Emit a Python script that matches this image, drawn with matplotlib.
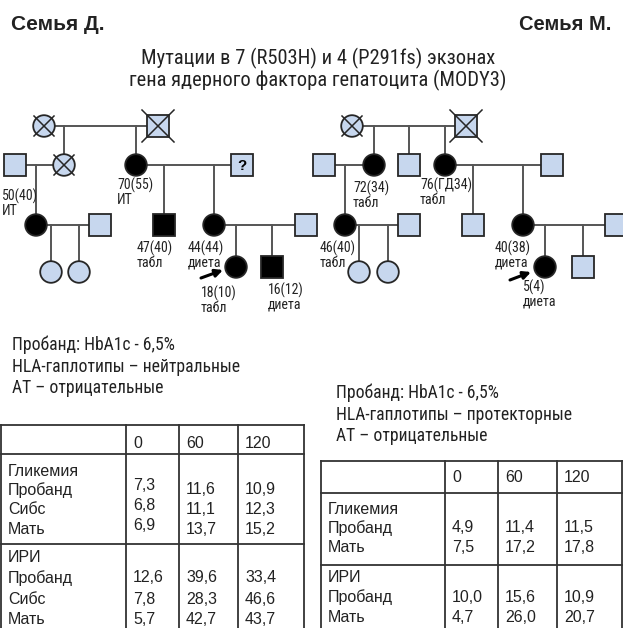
import matplotlib
matplotlib.use("Agg")
import matplotlib.pyplot as plt
from matplotlib import font_manager
from matplotlib.patches import Circle, Rectangle

# ---- data ----------------------------------------------------------------
TITLE_LEFT = "Семья Д."
TITLE_RIGHT = "Семья М."
SUBTITLE = ["Мутации в 7 (R503H) и 4 (P291fs) экзонах",
            "гена ядерного фактора гепатоцита (MODY3)"]

# person: id -> (sex, affected, deceased, label)
PERSONS_D = {
    "D1": ("F", False, True, None), "D2": ("M", False, True, None),
    "D3": ("M", False, False, None), "D4": ("F", False, True, None),
    "D5": ("F", True, False, "70(55)\nИТ"), "D6": ("M?", False, False, None),
    "D7": ("F", True, False, "50(40)\nИТ"), "D8": ("M", False, False, None),
    "D9": ("M", True, False, "47(40)\nтабл"), "D10": ("F", True, False, "44(44)\nдиета"),
    "D11": ("M", False, False, None), "D12": ("F", False, False, None),
    "D13": ("F", False, False, None), "D14": ("F", True, False, "18(10)\nтабл"),
    "D15": ("M", True, False, "16(12)\nдиета"),
}
COUPLES_D = [("D1", "D2", ["D4", "D5"]), ("D3", "D4", ["D7"]),
             ("D5", "D6", ["D9", "D10"]), ("D7", "D8", ["D12", "D13"]),
             ("D10", "D11", ["D14", "D15"])]
PROBAND_D = "D14"

PERSONS_M = {
    "M1": ("F", False, True, None), "M2": ("M", False, True, None),
    "M3": ("M", False, False, None), "M4": ("F", True, False, "72(34)\nтабл"),
    "M5": ("M", False, False, None), "M6": ("F", True, False, "76(ГД34)\nтабл"),
    "M7": ("M", False, False, None), "M8": ("F", True, False, "46(40)\nтабл"),
    "M9": ("M", False, False, None), "M10": ("M", False, False, None),
    "M11": ("F", True, False, "40(38)\nдиета"), "M12": ("M", False, False, None),
    "M13": ("F", False, False, None), "M14": ("F", False, False, None),
    "M15": ("F", True, False, "5(4)\nдиета"), "M16": ("M", False, False, None),
}
COUPLES_M = [("M1", "M2", ["M4", "M5", "M6"]), ("M3", "M4", ["M8"]),
             ("M6", "M7", ["M10", "M11"]), ("M8", "M9", ["M13", "M14"]),
             ("M11", "M12", ["M15", "M16"])]
PROBAND_M = "M15"

INFO_D = ["Пробанд: HbA1c - 6,5%", "HLA-гаплотипы – нейтральные", "АТ – отрицательные"]
INFO_M = ["Пробанд: HbA1c - 6,5%", "HLA-гаплотипы – протекторные", "АТ – отрицательные"]

TIMES = ["0", "60", "120"]
D_GLYC_ROWS = ["Пробанд", "Сибс", "Мать"]
D_GLYC = [[7.3, 11.6, 10.9], [6.8, 11.1, 12.3], [6.9, 13.7, 15.2]]
D_IRI_ROWS = ["Пробанд", "Сибс", "Мать"]
D_IRI = [[12.6, 39.6, 33.4], [7.8, 28.3, 46.6], [5.7, 42.7, 43.7]]
M_GLYC_ROWS = ["Пробанд", "Мать"]
M_GLYC = [[4.9, 11.4, 11.5], [7.5, 17.2, 17.8]]
M_IRI_ROWS = ["Пробанд", "Мать"]
M_IRI = [[10.0, 15.6, 10.9], [4.7, 26.0, 20.7]]

# ---- layout (pixel coords) ----------------------------------------------
POS = {
    "D1": (44, 126), "D2": (158, 126), "D3": (15, 165), "D4": (64, 165),
    "D5": (136, 165), "D6": (242, 165), "D7": (36, 225), "D8": (100, 225),
    "D9": (164, 225), "D10": (214, 225), "D11": (306, 225), "D12": (51, 272),
    "D13": (79, 272), "D14": (236, 267), "D15": (272, 267),
    "M1": (352, 126), "M2": (466, 126), "M3": (324, 165), "M4": (374, 165),
    "M5": (409, 165), "M6": (445, 165), "M7": (552, 165), "M8": (345, 225),
    "M9": (409, 225), "M10": (473, 225), "M11": (523, 225), "M12": (616, 225),
    "M13": (359, 272), "M14": (388, 272), "M15": (545, 267), "M16": (583, 267),
}
LABEL_POS = {
    "D5": (117, 178), "D7": (2, 189), "D9": (137, 241), "D10": (188, 241),
    "D14": (201, 286), "D15": (268, 283),
    "M4": (353, 181), "M6": (420, 178), "M8": (320, 241), "M11": (495, 241),
    "M15": (523, 280),
}
ARROWS = {PROBAND_D: ((201, 278), (223, 270)), PROBAND_M: ((510, 280), (531, 272))}

W, H = 623, 628
BLUE = "#c7d7ee"
EDGE = "#262626"
LINE = "#555555"
TXT = "#222222"
HS, R = 10.8, 10.8

names = {f.name for f in font_manager.fontManager.ttflist}
NARROW = next((n for n in ["Liberation Sans Narrow", "Roboto Condensed",
                           "Open Sans Condensed", "DejaVu Sans Condensed"] if n in names), None)
SHRINK = 1.0
if NARROW is None:
    NARROW, SHRINK = "Liberation Sans", 0.85
REG = "Liberation Sans"

fig = plt.figure(figsize=(W / 100, H / 100), dpi=100)
ax = fig.add_axes([0, 0, 1, 1])
ax.set_xlim(0, W)
ax.set_ylim(H, 0)
ax.axis("off")


def draw_person(x, y, sex, affected, dead):
    fc = "black" if affected else BLUE
    if sex.startswith("M"):
        ax.add_patch(Rectangle((x - HS, y - HS), 2 * HS, 2 * HS, fc=fc, ec=EDGE, lw=1.3, zorder=3))
        if dead:
            d = 16
            ax.plot([x - d, x + d], [y - d, y + d], color=EDGE, lw=1.1, zorder=4)
            ax.plot([x - d, x + d], [y + d, y - d], color=EDGE, lw=1.1, zorder=4)
        if sex == "M?":
            ax.text(x, y + 1, "?", ha="center", va="center", fontsize=11,
                    fontweight="bold", family=REG, zorder=5)
    else:
        ax.add_patch(Circle((x, y), R, fc=fc, ec=EDGE, lw=1.3, zorder=3))
        if dead:
            d = 10
            ax.plot([x - d, x + d], [y - d, y + d], color=EDGE, lw=1.1, zorder=4)
            ax.plot([x - d, x + d], [y + d, y - d], color=EDGE, lw=1.1, zorder=4)


def draw_pedigree(persons, couples):
    for a, b, kids in couples:
        (xa, ya), (xb, yb) = POS[a], POS[b]
        ax.plot([xa, xb], [ya, yb], color=LINE, lw=1.4, zorder=1)
        for k in kids:
            xk, yk = POS[k]
            ax.plot([xk, xk], [ya, yk], color=LINE, lw=1.4, zorder=1)
    for pid, (sex, aff, dead, label) in persons.items():
        x, y = POS[pid]
        draw_person(x, y, sex, aff, dead)
        if label:
            lx, ly = LABEL_POS[pid]
            ax.text(lx, ly, label, ha="left", va="top", fontsize=10 * SHRINK,
                    family=NARROW, linespacing=0.95, color=TXT)


draw_pedigree(PERSONS_D, COUPLES_D)
draw_pedigree(PERSONS_M, COUPLES_M)
for pid, (start, end) in ARROWS.items():
    ax.annotate("", xy=end, xytext=start,
                arrowprops=dict(arrowstyle="-|>", color="black", lw=2.2,
                                mutation_scale=11, shrinkA=0, shrinkB=0))

# headers
ax.text(11, 25, TITLE_LEFT, ha="left", va="center", fontsize=15,
        fontweight="bold", family=REG, color=TXT)
ax.text(611, 25, TITLE_RIGHT, ha="right", va="center", fontsize=14.5,
        fontweight="bold", family=REG, color=TXT)
for i, line in enumerate(SUBTITLE):
    ax.text(318, 58 + 22 * i, line, ha="center", va="center", fontsize=14.8 * SHRINK,
            family=NARROW, color=TXT)

# info blocks
for i, line in enumerate(INFO_D):
    ax.text(12, 345 + 21.5 * i, line, ha="left", va="center", fontsize=12.7 * SHRINK,
            family=NARROW, color=TXT)
for i, line in enumerate(INFO_M):
    ax.text(336, 393 + 21.5 * i, line, ha="left", va="center", fontsize=12.7 * SHRINK,
            family=NARROW, color=TXT)


def fmt(v):
    return f"{v:.1f}".replace(".", ",")


def draw_table(xs, y_top, y_head, y_sep, head_y, blocks):
    lc = "#333333"
    fs = 11.5
    for x in xs:
        ax.plot([x, x], [y_top, H], color=lc, lw=1.3, zorder=2)
    for y in (y_top, y_head, y_sep):
        ax.plot([xs[0], xs[-1]], [y, y], color=lc, lw=1.3, zorder=2)
    tx = [xs[1] + 7, xs[2] + 7, xs[3] + 7]
    for t, x in zip(TIMES, tx):
        ax.text(x, head_y, t, ha="left", va="center", fontsize=fs, family=REG, color=TXT)
    for (title, rows, vals, ys, shift) in blocks:
        ax.text(xs[0] + 7, ys[0], title, ha="left", va="center", fontsize=fs,
                family=REG, color=TXT)
        for r, (name, row) in enumerate(zip(rows, vals)):
            y = ys[r + 1]
            ax.text(xs[0] + 7, y, name, ha="left", va="center", fontsize=fs,
                    family=REG, color=TXT)
            for c, v in enumerate(row):
                dy = shift if c == 0 else 0
                ax.text(tx[c], y + dy, fmt(v), ha="left", va="center", fontsize=fs,
                        family=REG, color=TXT)


draw_table([1, 126, 179, 238, 304], 425, 454, 544, 444,
           [("Гликемия", D_GLYC_ROWS, D_GLYC, [471, 490, 510, 530], -5),
            ("ИРИ", D_IRI_ROWS, D_IRI, [558, 578, 599, 619], 0)])
draw_table([321, 445, 498, 557, 622], 461, 493, 565, 477,
           [("Гликемия", M_GLYC_ROWS, M_GLYC, [510, 528, 548], 0),
            ("ИРИ", M_IRI_ROWS, M_IRI, [577, 597, 618], 0)])

fig.savefig("out.png", dpi=100)
